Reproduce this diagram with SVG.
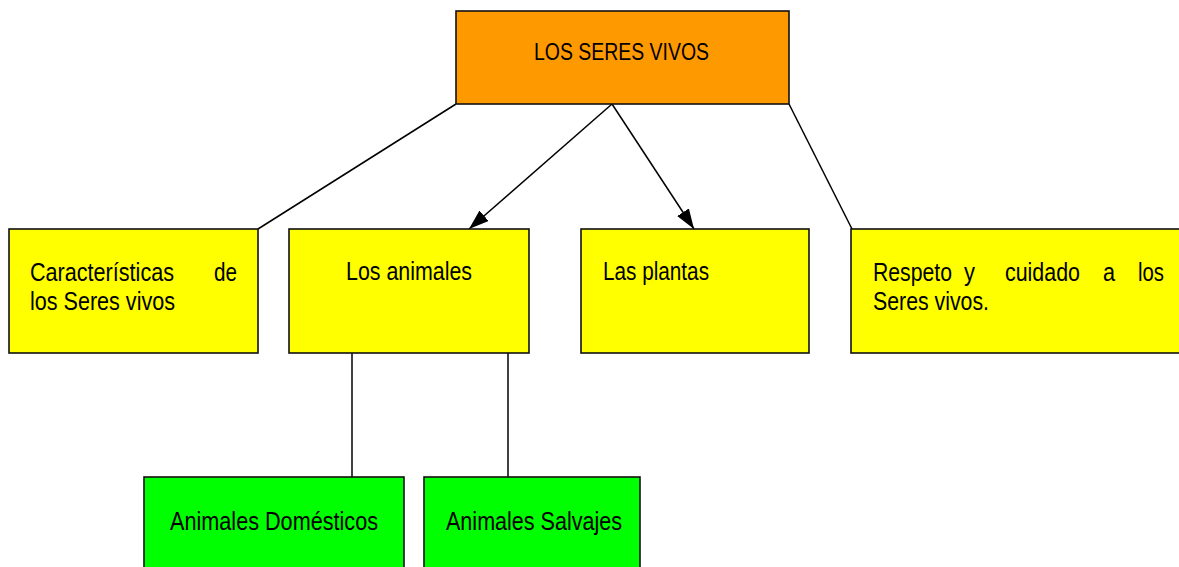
<svg xmlns="http://www.w3.org/2000/svg" width="1179" height="567" viewBox="0 0 1179 567">
<style>
.box{stroke:#111;stroke-width:1.6}
.orange{fill:#FF9900}
.yellow{fill:#FFFF00}
.green{fill:#00FF00}
.t{font-family:"Liberation Sans Narrow","Liberation Sans",Arial,sans-serif;font-size:25px;fill:#000}
.c{stroke:#000;stroke-width:1.5;fill:none}
</style>
<defs>
<marker id="arr" viewBox="0 0 20 14" refX="20" refY="7" markerWidth="20" markerHeight="14" markerUnits="userSpaceOnUse" orient="auto">
<path d="M0,0 L20,7 L0,14 Z" fill="#000"/>
</marker>
</defs>
<rect width="1179" height="567" fill="#fff"/>
<g id="connectors">
<line class="c" x1="456" y1="104" x2="258" y2="229"/>
<line class="c" x1="612" y1="104" x2="469" y2="229" marker-end="url(#arr)"/>
<line class="c" x1="612" y1="104" x2="694" y2="229" marker-end="url(#arr)"/>
<line class="c" x1="789" y1="104" x2="852" y2="229"/>
<line class="c" x1="352" y1="353" x2="352" y2="477"/>
<line class="c" x1="508" y1="353" x2="508" y2="477"/>
</g>
<g id="node-root">
<rect class="box orange" x="456" y="11" width="333" height="93"/>
<text class="t" x="534" y="60" style="font-size:23px" textLength="175" lengthAdjust="spacingAndGlyphs">LOS SERES VIVOS</text>
</g>
<g id="node-caracteristicas">
<rect class="box yellow" x="9" y="229" width="249" height="124"/>
<text class="t" x="30" y="281" textLength="144" lengthAdjust="spacingAndGlyphs">Características</text>
<text class="t" x="214" y="281" textLength="23" lengthAdjust="spacingAndGlyphs">de</text>
<text class="t" x="30" y="310" textLength="145" lengthAdjust="spacingAndGlyphs">los Seres vivos</text>
</g>
<g id="node-animales">
<rect class="box yellow" x="289" y="229" width="240" height="124"/>
<text class="t" x="346" y="280" textLength="126" lengthAdjust="spacingAndGlyphs">Los animales</text>
</g>
<g id="node-plantas">
<rect class="box yellow" x="581" y="229" width="228" height="124"/>
<text class="t" x="603" y="280" textLength="106" lengthAdjust="spacingAndGlyphs">Las plantas</text>
</g>
<g id="node-respeto">
<rect class="box yellow" x="851" y="229" width="330" height="124"/>
<text class="t" x="873" y="281" textLength="79" lengthAdjust="spacingAndGlyphs">Respeto</text>
<text class="t" x="964" y="281" textLength="11" lengthAdjust="spacingAndGlyphs">y</text>
<text class="t" x="1005" y="281" textLength="75" lengthAdjust="spacingAndGlyphs">cuidado</text>
<text class="t" x="1103" y="281" textLength="12" lengthAdjust="spacingAndGlyphs">a</text>
<text class="t" x="1138" y="281" textLength="26" lengthAdjust="spacingAndGlyphs">los</text>
<text class="t" x="873" y="310" textLength="116" lengthAdjust="spacingAndGlyphs">Seres vivos.</text>
</g>
<g id="node-domesticos">
<rect class="box green" x="144" y="477" width="260" height="95"/>
<text class="t" x="170" y="530" textLength="208" lengthAdjust="spacingAndGlyphs">Animales Domésticos</text>
</g>
<g id="node-salvajes">
<rect class="box green" x="424" y="477" width="216" height="95"/>
<text class="t" x="446" y="530" textLength="176" lengthAdjust="spacingAndGlyphs">Animales Salvajes</text>
</g>
</svg>
